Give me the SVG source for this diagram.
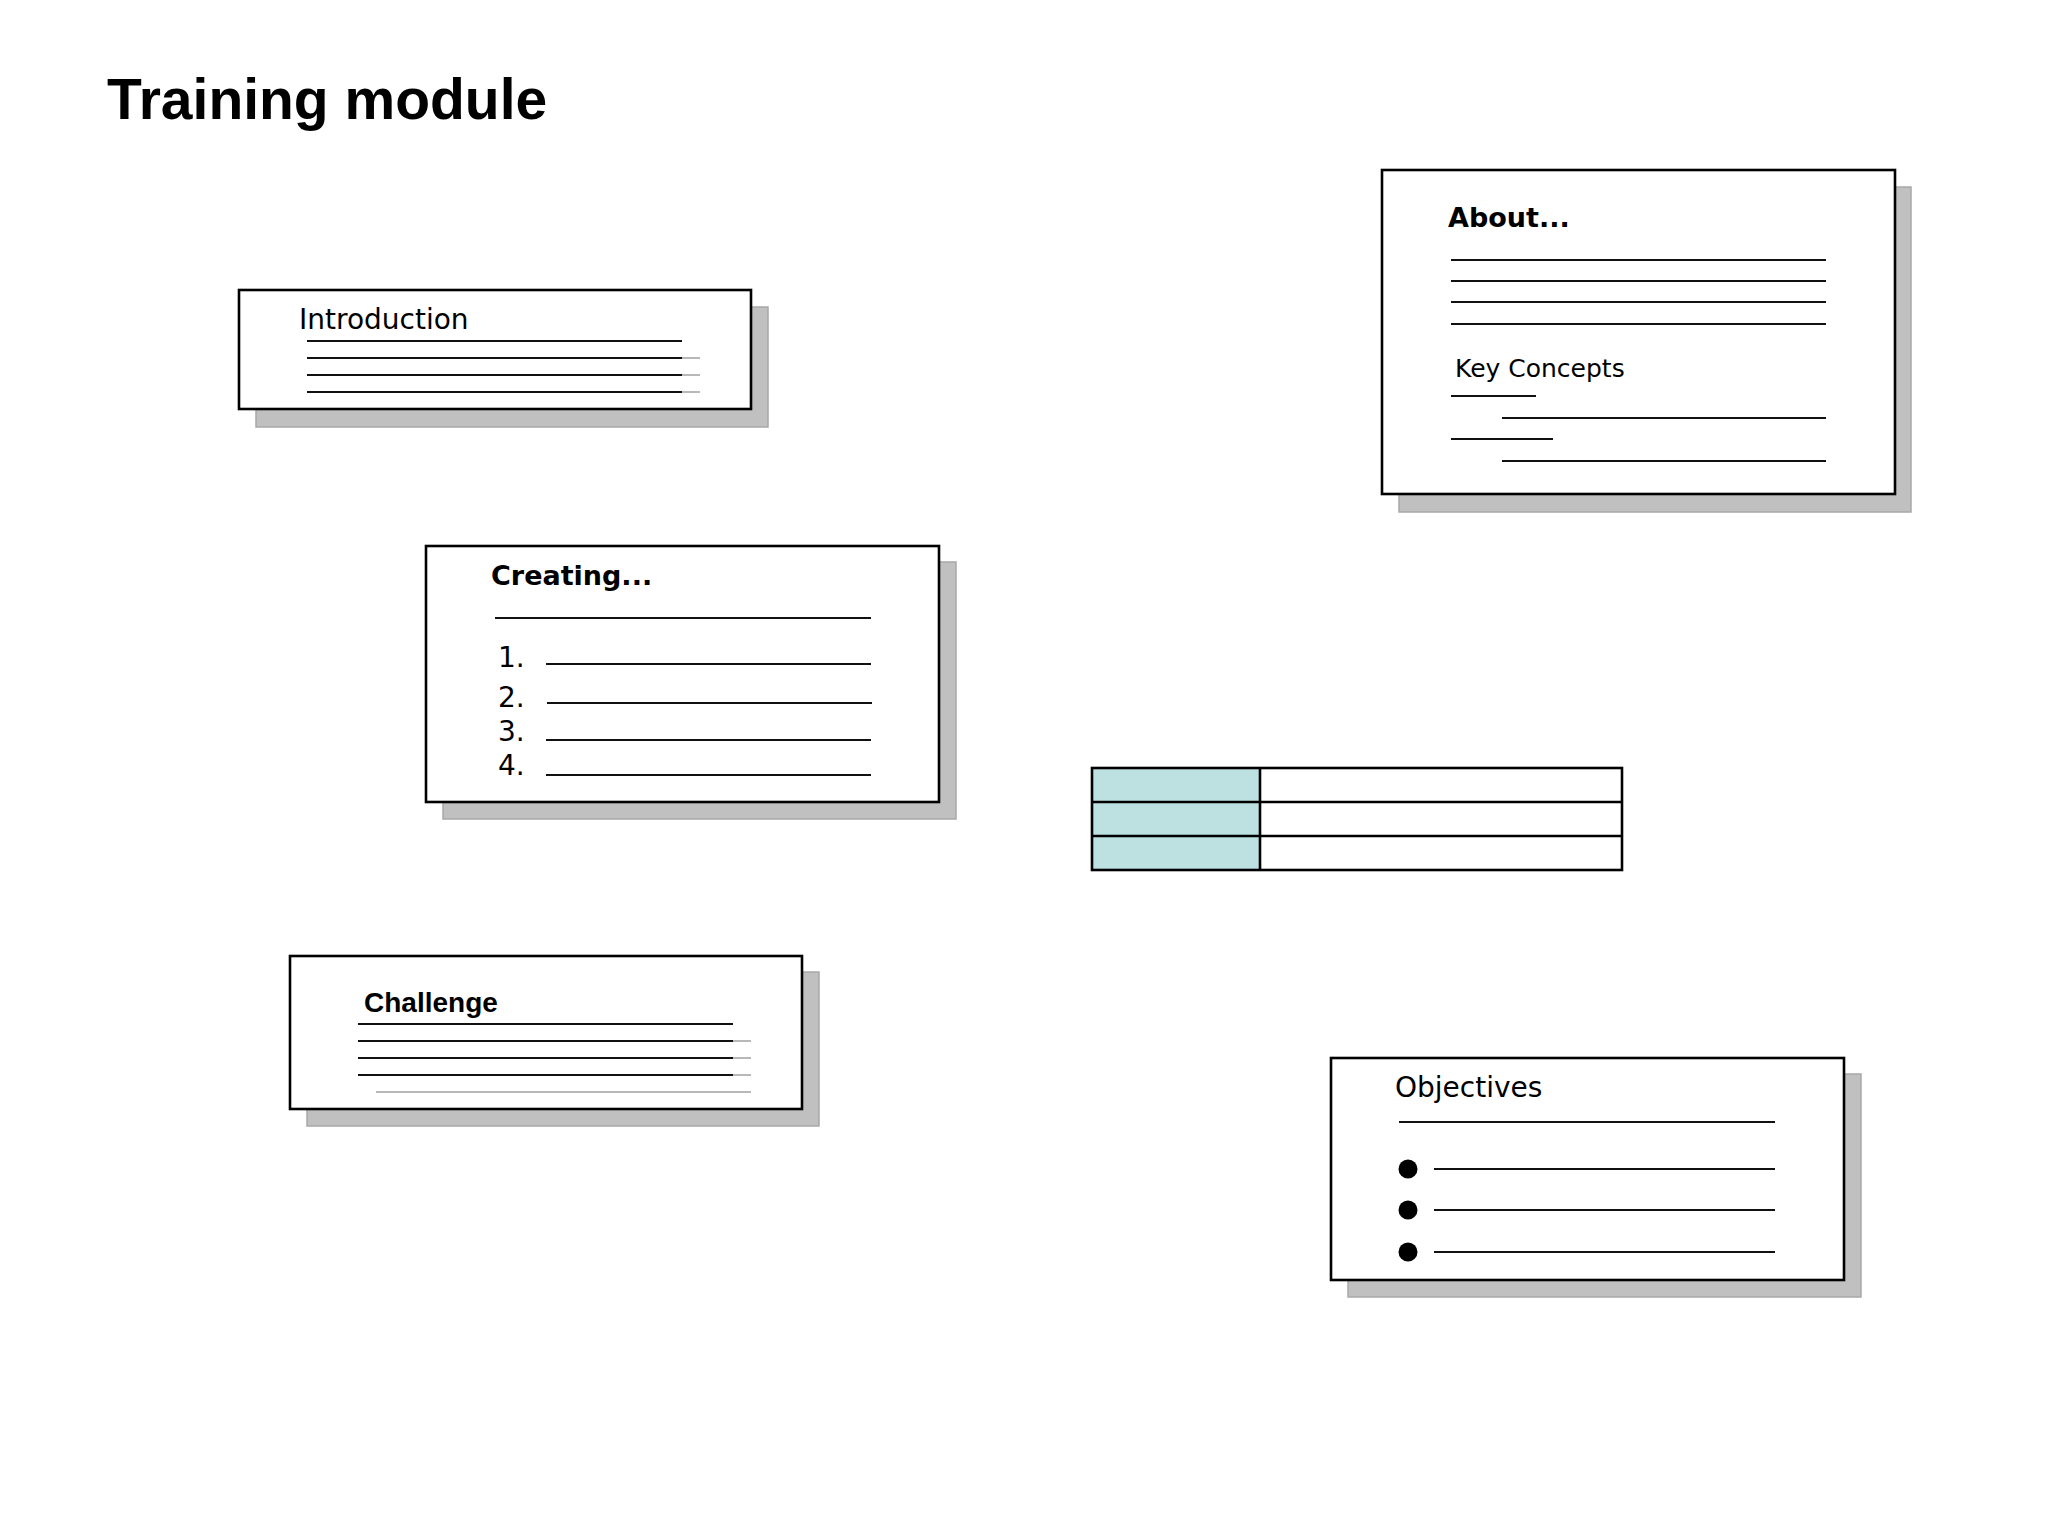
<svg xmlns="http://www.w3.org/2000/svg" width="2048" height="1536" viewBox="0 0 2048 1536">
<style>
.shadow{fill:#c0c0c0;stroke:#a8a8a8;stroke-width:1.5}
.card{fill:#ffffff;stroke:#000000;stroke-width:2.6}
.ln{stroke:#111111;stroke-width:2.2;fill:none}
.gl{stroke:#b8b8b8;stroke-width:2;fill:none}
.v{font-family:"DejaVu Sans",Verdana,sans-serif;fill:#000000}
.vb{font-family:"DejaVu Sans",Verdana,sans-serif;font-weight:bold;fill:#000000}
.ab{font-family:"Liberation Sans",Arial,sans-serif;font-weight:bold;fill:#000000}
.cell{stroke:#000000;stroke-width:2.6}
</style>
<rect width="2048" height="1536" fill="#ffffff"/>
<text class="ab" x="107" y="119" font-size="57">Training module</text>

<g id="introduction">
<rect class="shadow" x="256" y="307" width="512" height="120"/>
<rect class="card" x="239" y="290" width="512" height="119"/>
<text class="v" x="299" y="329" font-size="28">Introduction</text>
<line class="gl" x1="682" y1="358" x2="700" y2="358"/>
<line class="gl" x1="682" y1="375" x2="700" y2="375"/>
<line class="gl" x1="682" y1="392" x2="700" y2="392"/>
<line class="ln" x1="307" y1="341" x2="682" y2="341"/>
<line class="ln" x1="307" y1="358" x2="682" y2="358"/>
<line class="ln" x1="307" y1="375" x2="682" y2="375"/>
<line class="ln" x1="307" y1="392" x2="682" y2="392"/>
</g>

<g id="about">
<rect class="shadow" x="1399" y="187" width="512" height="325"/>
<rect class="card" x="1382" y="170" width="513" height="324"/>
<text class="vb" x="1448" y="227" font-size="27">About...</text>
<line class="ln" x1="1451" y1="260" x2="1826" y2="260"/>
<line class="ln" x1="1451" y1="281" x2="1826" y2="281"/>
<line class="ln" x1="1451" y1="302" x2="1826" y2="302"/>
<line class="ln" x1="1451" y1="324" x2="1826" y2="324"/>
<text class="v" x="1455" y="377" font-size="25">Key Concepts</text>
<line class="ln" x1="1451" y1="396" x2="1536" y2="396"/>
<line class="ln" x1="1502" y1="418" x2="1826" y2="418"/>
<line class="ln" x1="1451" y1="439" x2="1553" y2="439"/>
<line class="ln" x1="1502" y1="461" x2="1826" y2="461"/>
</g>

<g id="creating">
<rect class="shadow" x="443" y="562" width="513" height="257"/>
<rect class="card" x="426" y="546" width="513" height="256"/>
<text class="vb" x="491" y="585" font-size="27">Creating...</text>
<line class="ln" x1="495" y1="618" x2="871" y2="618"/>
<text class="v" x="498" y="667" font-size="28">1.</text>
<line class="ln" x1="546" y1="664" x2="871" y2="664"/>
<text class="v" x="498" y="707" font-size="28">2.</text>
<line class="ln" x1="547" y1="703" x2="872" y2="703"/>
<text class="v" x="498" y="741" font-size="28">3.</text>
<line class="ln" x1="546" y1="740" x2="871" y2="740"/>
<text class="v" x="498" y="775" font-size="28">4.</text>
<line class="ln" x1="546" y1="775" x2="871" y2="775"/>
</g>

<g id="table">
<rect x="1092" y="768" width="168" height="102" fill="#bde0e1"/>
<rect x="1260" y="768" width="362" height="102" fill="#ffffff"/>
<rect class="cell" x="1092" y="768" width="530" height="102" fill="none"/>
<line class="cell" x1="1260" y1="768" x2="1260" y2="870"/>
<line class="cell" x1="1092" y1="802" x2="1622" y2="802"/>
<line class="cell" x1="1092" y1="836" x2="1622" y2="836"/>
</g>

<g id="challenge">
<rect class="shadow" x="307" y="972" width="512" height="154"/>
<rect class="card" x="290" y="956" width="512" height="153"/>
<text class="ab" x="364" y="1012" font-size="28">Challenge</text>
<line class="gl" x1="733" y1="1041" x2="751" y2="1041"/>
<line class="gl" x1="733" y1="1058" x2="751" y2="1058"/>
<line class="gl" x1="733" y1="1075" x2="751" y2="1075"/>
<line class="gl" x1="376" y1="1092" x2="751" y2="1092"/>
<line class="ln" x1="358" y1="1024" x2="733" y2="1024"/>
<line class="ln" x1="358" y1="1041" x2="733" y2="1041"/>
<line class="ln" x1="358" y1="1058" x2="733" y2="1058"/>
<line class="ln" x1="358" y1="1075" x2="733" y2="1075"/>
</g>

<g id="objectives">
<rect class="shadow" x="1348" y="1074" width="513" height="223"/>
<rect class="card" x="1331" y="1058" width="513" height="222"/>
<text class="v" x="1395" y="1097" font-size="28">Objectives</text>
<line class="ln" x1="1399" y1="1122" x2="1775" y2="1122"/>
<circle cx="1408" cy="1169" r="9.5" fill="#000000"/>
<line class="ln" x1="1434" y1="1169" x2="1775" y2="1169"/>
<circle cx="1408" cy="1210" r="9.5" fill="#000000"/>
<line class="ln" x1="1434" y1="1210" x2="1775" y2="1210"/>
<circle cx="1408" cy="1252" r="9.5" fill="#000000"/>
<line class="ln" x1="1434" y1="1252" x2="1775" y2="1252"/>
</g>
</svg>
